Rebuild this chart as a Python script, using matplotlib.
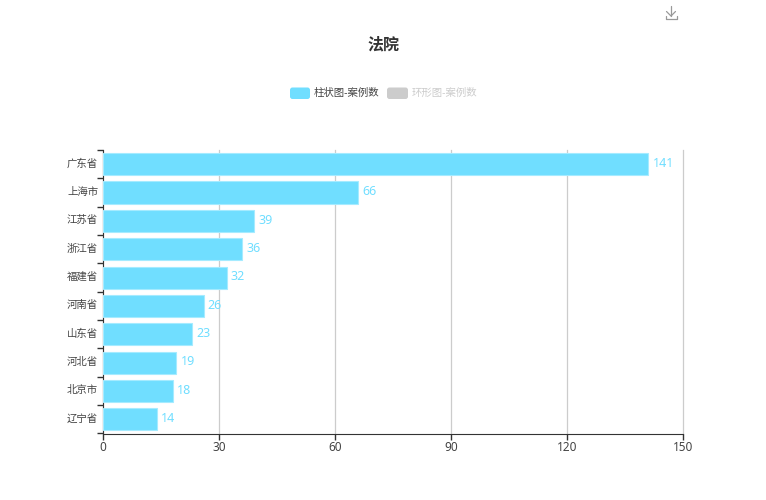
import matplotlib
matplotlib.use('Agg')
import matplotlib.pyplot as plt
from matplotlib.patches import FancyBboxPatch
from matplotlib.transforms import ScaledTranslation

plt.rcParams['font.family'] = ['Noto Sans', 'Noto Sans CJK SC', 'DejaVu Sans']

# данные
provinces = ['广东省', '上海市', '江苏省', '浙江省', '福建省', '河南省', '山东省', '河北省', '北京市', '辽宁省']
cases = [141, 66, 39, 36, 32, 26, 23, 19, 18, 14]
x_ticks = [0, 30, 60, 90, 120, 150]
legend_names = ['柱状图-案例数', '环形图-案例数']

W, H = 766, 500
bar_color = '#70DEFF'
axis_color = '#333333'
text_color = '#444444'

fig = plt.figure(figsize=(W / 100, H / 100), dpi=100)

# подложка в пикселях: заголовок, легенда, значок
bg = fig.add_axes([0, 0, 1, 1])
bg.set_xlim(0, W)
bg.set_ylim(H, 0)
bg.axis('off')

bg.text(383, 45, '法院', fontsize=11.5, fontweight='bold', color='#333333', ha='center', va='center')

bg.add_patch(FancyBboxPatch((290, 87.5), 20, 11.5, boxstyle='round,pad=0,rounding_size=2.5',
                            fc=bar_color, ec='none'))
bg.text(314, 93, legend_names[0], fontsize=7.5, color='#444444', va='center')
bg.add_patch(FancyBboxPatch((387, 87.5), 21, 11.5, boxstyle='round,pad=0,rounding_size=2.5',
                            fc='#CCCCCC', ec='none'))
bg.text(412, 93, legend_names[1], fontsize=7.5, color='#CCCCCC', va='center')

# значок скачивания
icon = dict(color='#999999', lw=0.9, solid_capstyle='round')
bg.plot([671, 671], [6, 16], **icon)
bg.plot([666.5, 671, 675.5], [11.5, 16, 11.5], **icon)
bg.plot([665.5, 665.5, 677, 677], [15.5, 19, 19, 15.5], **icon)

# основной график
ax = fig.add_axes([103 / W, 1 - 433.5 / H, 580 / W, 283.5 / H])
y = list(range(len(provinces)))
ax.barh(y, cases, height=0.78, color=bar_color, edgecolor='#A5EBFF', linewidth=0.8, zorder=3)

for yi, val in zip(y, cases):
    ax.text(val + 1.1, yi - 0.03, str(val), color=bar_color, fontsize=9, va='center', ha='left', zorder=4)

ax.set_xlim(0, 150)
ax.set_ylim(len(provinces) - 0.5, -0.5)
ax.set_xticks(x_ticks)
ax.set_yticks(y)
ax.set_yticklabels(provinces)

# деления оси Y на границах категорий
ax.set_yticks([i - 0.5 for i in range(len(provinces) + 1)], minor=True)
ax.tick_params(axis='y', which='major', length=0, pad=3.5, labelsize=7.5, labelcolor=text_color)
ax.tick_params(axis='y', which='minor', length=4, width=1, color=axis_color, direction='out')
ax.tick_params(axis='x', length=4, width=1, color=axis_color, labelsize=8.5, labelcolor=text_color, pad=1.5)

# подписи оси Y чуть выше центра
shift = ScaledTranslation(0, 1.5 / 100, fig.dpi_scale_trans)
for lab in ax.get_yticklabels():
    lab.set_transform(lab.get_transform() + shift)

ax.grid(True, axis='x', color='#CCCCCC', lw=0.9, zorder=0, clip_on=False)
ax.set_axisbelow(True)

ax.spines['top'].set_visible(False)
ax.spines['right'].set_visible(False)
ax.spines['left'].set_color(axis_color)
ax.spines['bottom'].set_color(axis_color)
ax.patch.set_alpha(0)

fig.savefig('out.png', dpi=100)
